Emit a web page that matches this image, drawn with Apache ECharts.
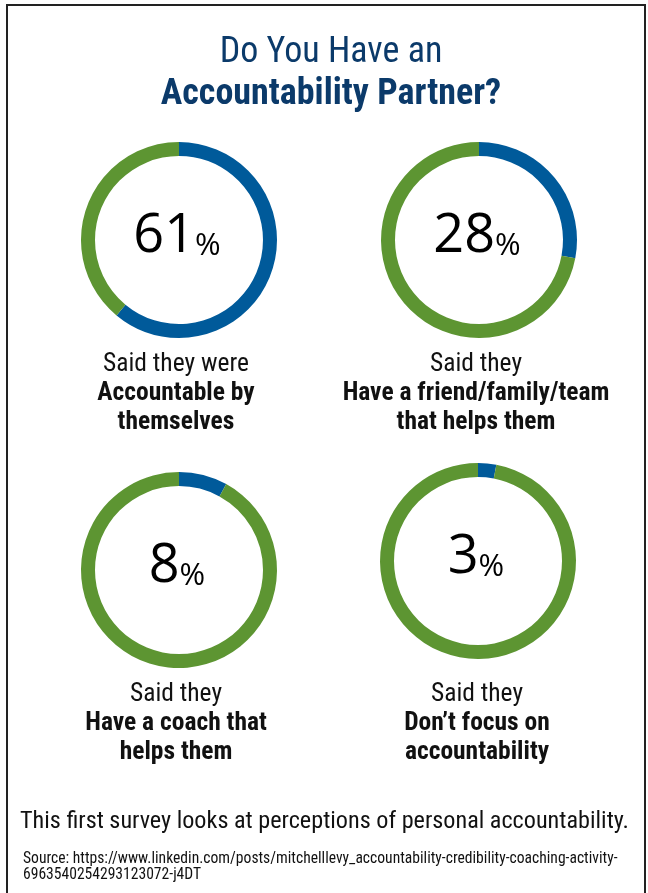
<!DOCTYPE html>
<html>
<head>
<meta charset="utf-8">
<script src="https://cdn.jsdelivr.net/npm/echarts@6/dist/echarts.min.js"></script>
<style>
html,body{margin:0;padding:0;background:#fff;}
#chart{width:648px;height:893px;}
</style>
</head>
<body>
<div id="chart"></div>
<script>
// ---- data ----
var titleLines = ['Do You Have an', 'Accountability Partner?'];
var shares = [61, 28, 8, 3];
var remainders = [39, 72, 92, 97];
var captionLead = ['Said they were', 'Said they', 'Said they', 'Said they'];
var captionBold = [
  ['Accountable by', 'themselves'],
  ['Have a friend/family/team', 'that helps them'],
  ['Have a coach that', 'helps them'],
  ["Don\u2019t focus on", 'accountability']
];
var footerText = 'This first survey looks at perceptions of personal accountability.';
var sourceLines = [
  'Source: https://www.linkedin.com/posts/mitchelllevy_accountability-credibility-coaching-activity-',
  '6963540254293123072-j4DT'
];

// ---- layout ----
var DIN = "'Liberation Sans Narrow', 'Roboto Condensed', Roboto, sans-serif";
var NUMF = "'Open Sans', 'Noto Sans', sans-serif";
var BLUE = '#005a9a';
var GREEN = '#5d9532';
var centers = [[179, 240], [479, 240], [179, 570], [478, 561]];
var capLeft = [171, 471, 171, 472];
var capTops = [345, 345, 675, 675];

var chart = echarts.init(document.getElementById('chart'), null, {renderer: 'canvas'});

var titles = [{
  text: '{a|' + titleLines[0] + '}\n{b|' + titleLines[1] + '}',
  left: 326, top: 27, textAlign: 'center',
  textStyle: {
    fontWeight: 'normal',
    rich: {
      a: {fontFamily: DIN, fontSize: 36, fontWeight: 'normal', color: '#0b3a6a', lineHeight: 42},
      b: {fontFamily: DIN, fontSize: 36, fontWeight: 'bold', color: '#0b3a6a', lineHeight: 42}
    }
  }
}];
for (var i = 0; i < shares.length; i++) {
  var t = '{r|' + captionLead[i] + '}';
  captionBold[i].forEach(function (l) { t += '\n{b|' + l + '}'; });
  titles.push({
    text: t, left: capLeft[i], top: capTops[i], textAlign: 'center',
    textStyle: {
      fontWeight: 'normal',
      rich: {
        r: {fontFamily: DIN, fontSize: 25.5, fontWeight: 'normal', color: '#111', lineHeight: 29, align: 'center'},
        b: {fontFamily: DIN, fontSize: 25.5, fontWeight: 'bold', color: '#111', lineHeight: 29, align: 'center'}
      }
    }
  });
}
titles.push({
  text: footerText, left: 15, top: 805,
  textStyle: {fontFamily: DIN, fontSize: 24.2, fontWeight: 'normal', color: '#111'}
});
titles.push({
  text: sourceLines.join('\n'), left: 18, top: 846,
  textStyle: {fontFamily: DIN, fontSize: 15.6, fontWeight: 'normal', color: '#111', lineHeight: 16}
});

var series = shares.map(function (v, i) {
  return {
    type: 'pie',
    center: centers[i],
    radius: [84, 98],
    startAngle: 90,
    clockwise: true,
    silent: true,
    avoidLabelOverlap: false,
    labelLine: {show: false},
    data: [
      {
        value: v, itemStyle: {color: BLUE},
        label: {
          show: true, position: 'center',
          formatter: '{n|' + v + '}{p|%}',
          rich: {
            n: {fontFamily: NUMF, fontSize: 54, color: '#000', verticalAlign: 'bottom', lineHeight: 60},
            p: {fontFamily: NUMF, fontSize: 31, color: '#000', verticalAlign: 'bottom', lineHeight: 60, padding: [0, 0, 2, 0]}
          },
          offset: [-2, -6]
        }
      },
      {value: remainders[i], itemStyle: {color: GREEN}, label: {show: false}}
    ]
  };
});

chart.setOption({
  backgroundColor: '#fff',
  animation: false,
  title: titles,
  graphic: [{
    type: 'rect', silent: true,
    shape: {x: 7, y: 5, width: 638, height: 900},
    style: {fill: 'none', stroke: '#222', lineWidth: 2}
  }],
  series: series
});
</script>
</body>
</html>
